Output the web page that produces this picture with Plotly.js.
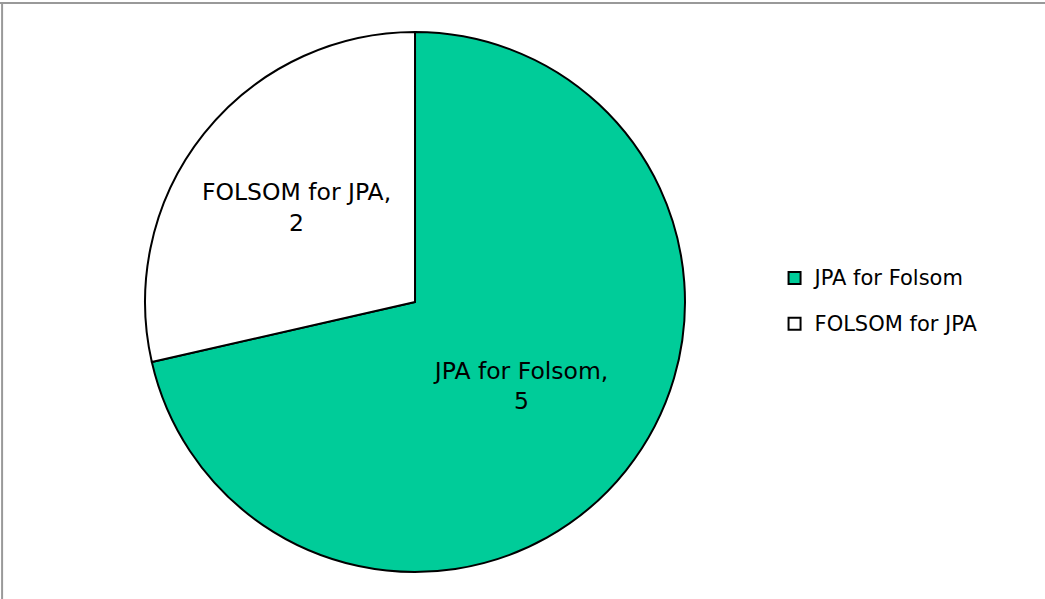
<!DOCTYPE html>
<html>
<head>
<meta charset="utf-8">
<script src="https://cdn.plot.ly/plotly-3.0.1.min.js"></script>
<style>html,body{margin:0;padding:0;background:#fff;}#chart{width:1045px;height:599px;}</style>
</head>
<body>
<div id="chart"></div>
<script>
const categories = ["JPA for Folsom", "FOLSOM for JPA"];
const values = [5, 2];
const colors = ["#00CC99", "#FFFFFF"];

const trace = {
  type: "pie",
  labels: categories.map(c => '<span style="font-size:21px;baseline-shift:6px">' + c + '</span>'),
  text: categories,
  values: values,
  sort: false,
  direction: "clockwise",
  rotation: 0,
  marker: {colors: colors, line: {color: "#000000", width: 2}},
  texttemplate: "%{text},<br>%{value}",
  textposition: "inside",
  insidetextorientation: "horizontal",
  textfont: {family: "DejaVu Sans, sans-serif", size: 23.5, color: "#000000"},
  hoverinfo: "text+value",
  domain: {x: [0.1388, 0.6555], y: [0.0451, 0.9466]}
};

const layout = {
  width: 1045, height: 599,
  margin: {l: 0, r: 0, t: 0, b: 0},
  paper_bgcolor: "#ffffff",
  showlegend: true,
  legend: {
    x: 0.7412, y: 0.4975, xanchor: "left", yanchor: "middle",
    font: {family: "DejaVu Sans, sans-serif", size: 33, color: "#000000"},
    itemwidth: 30, tracegroupgap: 0
  },
  shapes: [
    {type: "line", xref: "paper", yref: "paper", x0: 0, x1: 1, y0: 0.995, y1: 0.995, line: {color: "#999999", width: 2}},
    {type: "line", xref: "paper", yref: "paper", x0: 0.002, x1: 0.002, y0: 0, y1: 0.995, line: {color: "#999999", width: 2}}
  ]
};

Plotly.newPlot("chart", [trace], layout, {displayModeBar: false, staticPlot: true});
</script>
</body>
</html>
